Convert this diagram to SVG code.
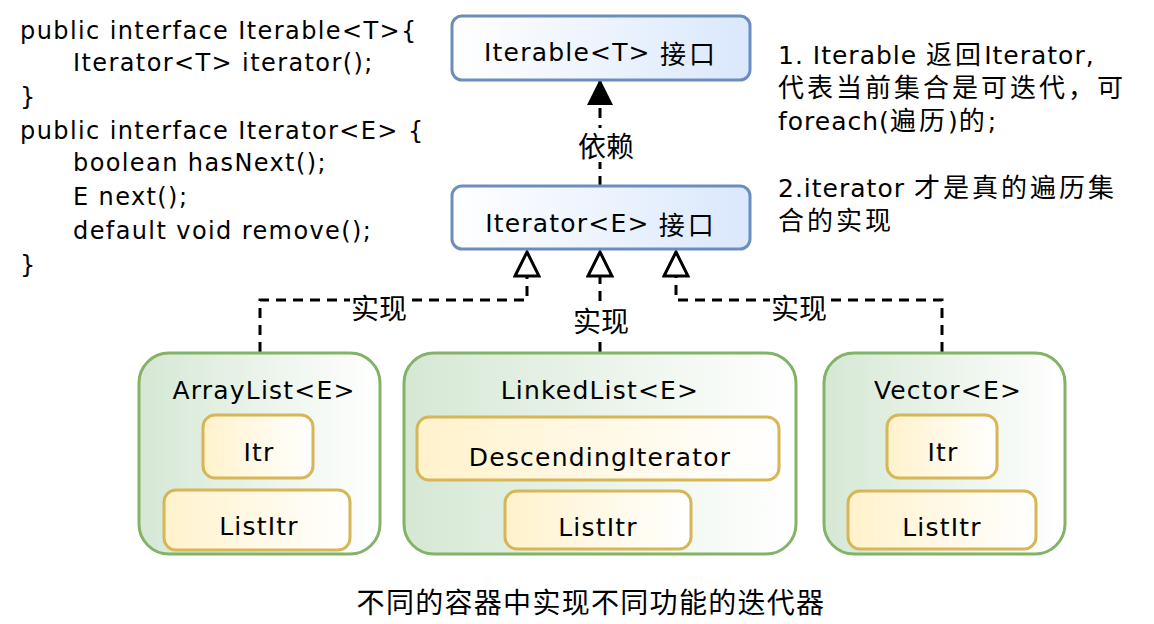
<svg xmlns="http://www.w3.org/2000/svg" width="1154" height="624" viewBox="0 0 1154 624">
<style>
  text { font-family: "DejaVu Sans", "Noto Sans CJK SC", sans-serif; fill: #000; }
  .t { font-size: 25px; letter-spacing: 1.2px; text-anchor: middle; dominant-baseline: central; }
  .cj { font-family: "Noto Sans CJK SC", sans-serif; font-size: 26px; letter-spacing: 3px; }
  .lbl { font-family: "Noto Sans CJK SC", sans-serif; font-size: 28px; text-anchor: middle; dominant-baseline: central; }
  .code { font-size: 24px; letter-spacing: 1.4px; }
  .note { font-size: 25px; letter-spacing: 1px; }
  .iface { fill: url(#gBlue); stroke: #6c8ebf; stroke-width: 3; }
  .cont { fill: url(#gGreen); stroke: #82b366; stroke-width: 3; }
  .inner { fill: url(#gYellow); stroke: #d6b656; stroke-width: 3; }
  .conn { fill: none; stroke: #000; stroke-width: 3; stroke-dasharray: 10 7; }
  .lbg { fill: #fff; }
</style>
<defs>
  <linearGradient id="gBlue" x1="0" y1="0" x2="1" y2="0">
    <stop offset="0" stop-color="#ffffff"/>
    <stop offset="1" stop-color="#dae8fc"/>
  </linearGradient>
  <linearGradient id="gGreen" x1="0" y1="0" x2="1" y2="0">
    <stop offset="0" stop-color="#d5e8d4"/>
    <stop offset="1" stop-color="#ffffff"/>
  </linearGradient>
  <linearGradient id="gYellow" x1="0" y1="0" x2="1" y2="0">
    <stop offset="0" stop-color="#fff2cc"/>
    <stop offset="1" stop-color="#ffffff"/>
  </linearGradient>
  <marker id="openTri" viewBox="0 0 28 28" refX="26" refY="14" markerWidth="28" markerHeight="28" markerUnits="userSpaceOnUse" orient="auto">
    <path d="M2,2 L26,14 L2,26 Z" fill="#fff" stroke="#000" stroke-width="3" stroke-linejoin="miter"/>
  </marker>
  <marker id="fillTri" viewBox="0 0 28 28" refX="26" refY="14" markerWidth="28" markerHeight="28" markerUnits="userSpaceOnUse" orient="auto">
    <path d="M1,1 L27,14 L1,27 Z" fill="#000"/>
  </marker>
</defs>

<g id="code">
  <text class="code" x="20" y="39">public interface Iterable&lt;T&gt;{</text>
  <text class="code" x="73" y="71">Iterator&lt;T&gt; iterator();</text>
  <text class="code" x="20" y="105">}</text>
  <text class="code" x="20" y="139">public interface Iterator&lt;E&gt; {</text>
  <text class="code" x="73" y="171">boolean hasNext();</text>
  <text class="code" x="73" y="205">E next();</text>
  <text class="code" x="73" y="239">default void remove();</text>
  <text class="code" x="20" y="273">}</text>
</g>

<g id="notes">
  <text class="note" x="778" y="64">1. Iterable  <tspan class="cj">返回</tspan>Iterator,</text>
  <text class="note" x="778" y="97"><tspan class="cj">代表当前集合是可迭代，可</tspan></text>
  <text class="note" x="778" y="130">foreach(<tspan class="cj">遍历</tspan>)<tspan class="cj">的</tspan>;</text>
  <text class="note" x="778" y="197">2.iterator <tspan class="cj">才是真的遍历集</tspan></text>
  <text class="note" x="778" y="230"><tspan class="cj">合的实现</tspan></text>
</g>

<g id="connectors">
  <path class="conn" d="M600,186 V80" marker-end="url(#fillTri)"/>
  <rect class="lbg" x="572" y="128" width="58" height="34"/>
  <text class="lbl" x="606" y="145">依赖</text>

  <path class="conn" d="M260,352 V300 H527 V252" marker-end="url(#openTri)"/>
  <rect class="lbg" x="350" y="290" width="58" height="34"/>
  <text class="lbl" x="379" y="307">实现</text>

  <path class="conn" d="M600,352 V252" marker-end="url(#openTri)"/>
  <rect class="lbg" x="572" y="303" width="58" height="34"/>
  <text class="lbl" x="601" y="320">实现</text>

  <path class="conn" d="M942,352 V300 H676 V252" marker-end="url(#openTri)"/>
  <rect class="lbg" x="770" y="290" width="58" height="34"/>
  <text class="lbl" x="799" y="307">实现</text>
</g>

<g id="iterable">
  <rect class="iface" x="452" y="16" width="298" height="64" rx="10"/>
  <text class="t" x="601" y="52">Iterable&lt;T&gt; <tspan class="cj" letter-spacing="1">接口</tspan></text>
</g>

<g id="iterator">
  <rect class="iface" x="452" y="186" width="298" height="63" rx="10"/>
  <text class="t" x="601" y="223">Iterator&lt;E&gt; <tspan class="cj" letter-spacing="1">接口</tspan></text>
</g>

<g id="arraylist">
  <rect class="cont" x="139" y="353" width="241" height="201" rx="30"/>
  <text class="t" x="264" y="390">ArrayList&lt;E&gt;</text>
  <g id="arraylist-itr">
    <rect class="inner" x="203" y="415" width="110" height="63" rx="12"/>
    <text class="t" x="259" y="452">Itr</text>
  </g>
  <g id="arraylist-listitr">
    <rect class="inner" x="164" y="490" width="186" height="60" rx="12"/>
    <text class="t" x="259" y="526">ListItr</text>
  </g>
</g>

<g id="linkedlist">
  <rect class="cont" x="404" y="353" width="392" height="201" rx="30"/>
  <text class="t" x="600" y="390">LinkedList&lt;E&gt;</text>
  <g id="linkedlist-desc">
    <rect class="inner" x="417" y="417" width="362" height="63" rx="12"/>
    <text class="t" x="600" y="457">DescendingIterator</text>
  </g>
  <g id="linkedlist-listitr">
    <rect class="inner" x="505" y="491" width="186" height="58" rx="12"/>
    <text class="t" x="598" y="527">ListItr</text>
  </g>
</g>

<g id="vector">
  <rect class="cont" x="824" y="353" width="241" height="201" rx="30"/>
  <text class="t" x="948" y="390">Vector&lt;E&gt;</text>
  <g id="vector-itr">
    <rect class="inner" x="887" y="415" width="110" height="63" rx="12"/>
    <text class="t" x="943" y="452">Itr</text>
  </g>
  <g id="vector-listitr">
    <rect class="inner" x="848" y="491" width="188" height="58" rx="12"/>
    <text class="t" x="942" y="527">ListItr</text>
  </g>
</g>

<g id="caption">
  <text class="lbl" x="591" y="601" letter-spacing="1.3">不同的容器中实现不同功能的迭代器</text>
</g>
</svg>
